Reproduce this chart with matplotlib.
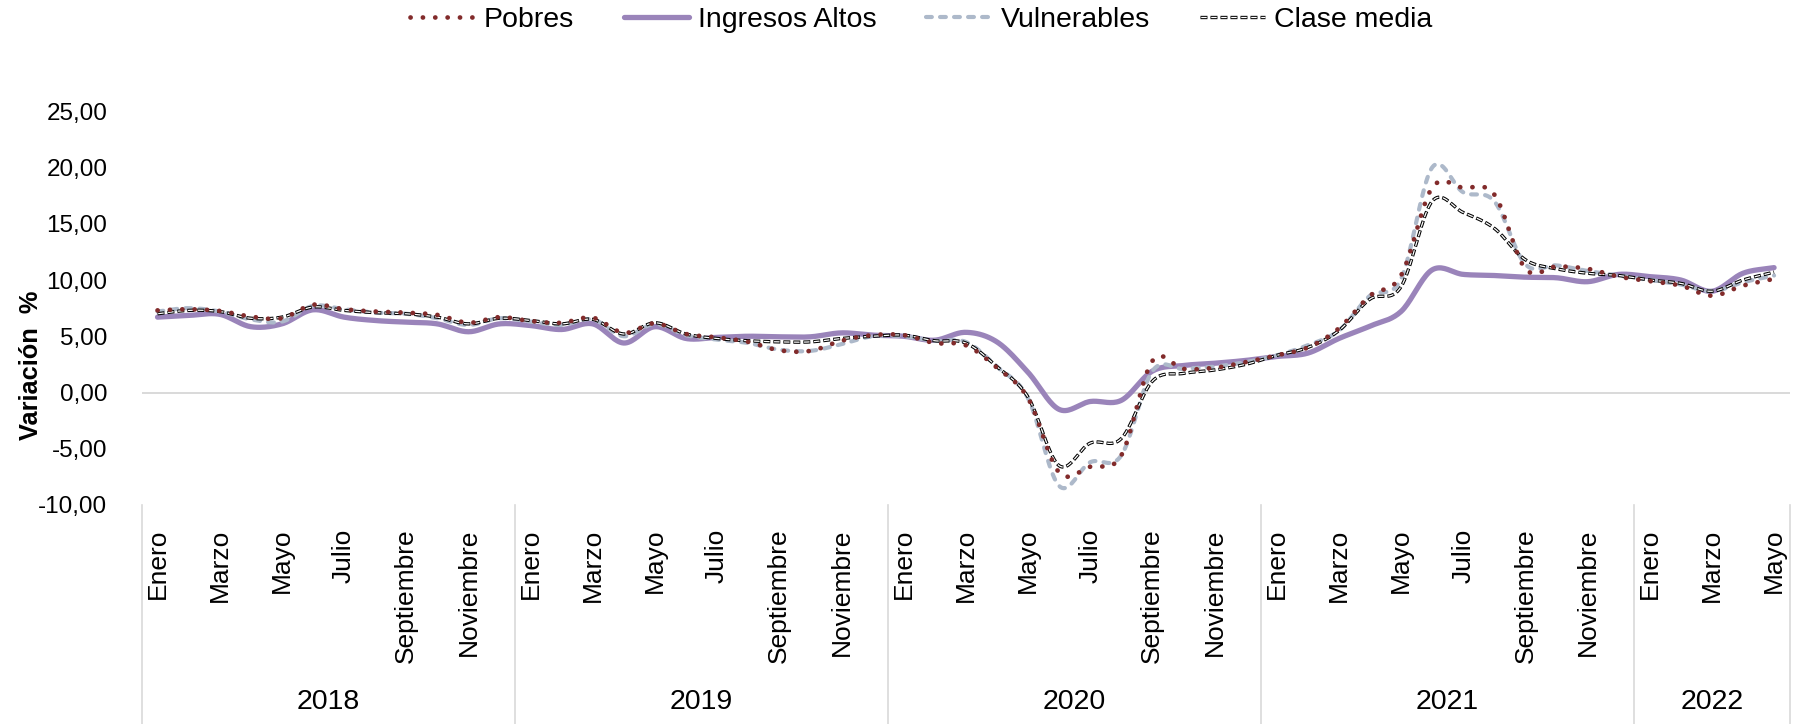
# Variación % del ingreso por grupo (serie mensual 2018 - 2022)

import matplotlib.pyplot as plt
import matplotlib.transforms as mtransforms
from matplotlib.lines import Line2D
import numpy as np

plt.rcParams['font.family'] = ['Liberation Sans', 'DejaVu Sans']
plt.rcParams['lines.scale_dashes'] = False

meses = ['Enero', 'Febrero', 'Marzo', 'Abril', 'Mayo', 'Junio', 'Julio',
         'Agosto', 'Septiembre', 'Octubre', 'Noviembre', 'Diciembre']
anios = ['2018', '2019', '2020', '2021', '2022']
meses_por_anio = [12, 12, 12, 12, 5]

pobres = [7.3, 7.4, 7.25, 6.75, 6.6, 7.8, 7.4, 7.2, 7.1, 6.9, 6.2, 6.7,
          6.35, 6.2, 6.65, 5.3, 6.15, 5.2, 4.9, 4.5, 3.75, 3.7, 4.6, 5.1,
          5.1, 4.4, 4.2, 2.2, -0.5, -7.1, -6.6, -5.6, 2.8, 2.1, 2.2, 2.7,
          3.3, 4.0, 5.7, 8.6, 10.4, 18.2, 18.2, 17.6, 11.0, 11.2, 11.0, 10.3,
          9.9, 9.5, 8.6, 9.5, 10.1]
ingresos_altos = [6.7, 6.85, 6.95, 5.85, 6.1, 7.35, 6.7, 6.4, 6.25, 6.1, 5.4, 6.1,
                  5.95, 5.6, 6.1, 4.4, 5.85, 4.8, 4.9, 5.0, 4.95, 4.95, 5.3, 5.1,
                  5.0, 4.65, 5.35, 4.5, 1.8, -1.5, -0.8, -0.7, 1.9, 2.4, 2.6, 2.85,
                  3.2, 3.5, 4.8, 5.9, 7.2, 10.9, 10.5, 10.4, 10.25, 10.2, 9.85, 10.5,
                  10.3, 10.0, 9.0, 10.6, 11.1]
vulnerables = [7.2, 7.5, 7.2, 6.5, 6.3, 7.7, 7.4, 7.1, 7.0, 6.6, 6.0, 6.6,
               6.3, 6.0, 6.5, 5.0, 6.1, 5.1, 4.7, 4.4, 3.8, 3.7, 4.3, 5.0,
               5.0, 4.6, 4.5, 2.3, -0.5, -8.3, -6.2, -5.6, 1.9, 2.1, 2.3, 2.7,
               3.3, 4.2, 5.5, 8.6, 10.1, 20.0, 17.8, 17.0, 11.4, 11.3, 10.8, 10.4,
               10.0, 9.6, 9.0, 9.8, 10.4]
clase_media = [7.0, 7.3, 7.2, 6.6, 6.7, 7.6, 7.3, 7.1, 7.0, 6.7, 6.1, 6.6,
               6.4, 6.1, 6.5, 5.2, 6.2, 5.2, 4.8, 4.6, 4.5, 4.5, 4.8, 5.0,
               5.1, 4.6, 4.4, 2.3, -0.4, -6.5, -4.5, -4.1, 1.0, 1.7, 2.0, 2.5,
               3.3, 4.0, 5.5, 8.3, 9.4, 17.0, 16.0, 14.6, 11.8, 11.0, 10.6, 10.4,
               10.0, 9.7, 9.0, 10.0, 10.7]

y_ticks = [-10, -5, 0, 5, 10, 15, 20, 25]


def suavizar(y, n=20):
    # linea suavizada tipo Excel (Catmull-Rom) que pasa por cada punto
    y = np.asarray(y, float)
    x = np.arange(len(y), dtype=float)
    px = np.concatenate([[2 * x[0] - x[1]], x, [2 * x[-1] - x[-2]]])
    py = np.concatenate([[2 * y[0] - y[1]], y, [2 * y[-1] - y[-2]]])
    t = np.linspace(0, 1, n, endpoint=False)
    xs, ys = [], []
    for k in range(1, len(px) - 2):
        for p, out in ((px, xs), (py, ys)):
            p0, p1, p2, p3 = p[k - 1], p[k], p[k + 1], p[k + 2]
            out.append(0.5 * (2 * p1 + (-p0 + p2) * t
                              + (2 * p0 - 5 * p1 + 4 * p2 - p3) * t ** 2
                              + (-p0 + 3 * p1 - 3 * p2 + p3) * t ** 3))
    xs.append([x[-1]])
    ys.append([y[-1]])
    return np.concatenate(xs), np.concatenate(ys)


fig = plt.figure(figsize=(17.95, 7.24), dpi=100)
ax = fig.add_axes([0.0791, 0.3025, 0.9179, 0.5438])

# estilos
st_ia = dict(color='#9A84BA', lw=3.8, solid_capstyle='round')
st_pob = dict(color='#822B2B', lw=3.4, linestyle=(0, (0.1, 8.8)), dash_capstyle='round')
st_vul = dict(color='#ADB9CA', lw=3.0, linestyle=(0, (4.2, 5.9)), dash_capstyle='round')
st_cm1 = dict(color='black', lw=2.4, linestyle=(0, (5.0, 2.2)), dash_capstyle='butt')
st_cm2 = dict(color='white', lw=0.9, linestyle=(6.7, (4.0, 3.2)), dash_capstyle='butt')

ax.axhline(0, color='#D9D9D9', lw=1.4, zorder=1)

ax.plot(*suavizar(ingresos_altos), zorder=2, **st_ia)
ax.plot(*suavizar(vulnerables), zorder=3, **st_vul)
xs, ys = suavizar(clase_media)
ax.plot(xs, ys, zorder=4, **st_cm1)
ax.plot(xs, ys, zorder=4.1, **st_cm2)
ax.plot(*suavizar(pobres), zorder=5, **st_pob)

n = sum(meses_por_anio)
ax.set_xlim(-0.5, n - 0.5)
ax.set_ylim(-10, 25)
ax.set_yticks(y_ticks)
ax.set_yticklabels([f'{v:.2f}'.replace('.', ',') for v in y_ticks], fontsize=17.5)
ax.tick_params(axis='y', length=0, pad=25)

# etiquetas de mes (una si, una no)
etiquetas = []
for m in meses_por_anio:
    etiquetas += [meses[k] if k % 2 == 0 else '' for k in range(m)]
ax.set_xticks(range(n))
ax.set_xticklabels(etiquetas, rotation=90, fontsize=19)
ax.tick_params(axis='x', length=0, pad=17)

for s in ax.spines.values():
    s.set_visible(False)

# separadores de año y etiquetas de año
trans = mtransforms.blended_transform_factory(ax.transData, fig.transFigure)
inicio = 0
bordes = [-0.5]
for anio, m in zip(anios, meses_por_anio):
    ax.text(inicio + (m - 1) / 2, 0.03, anio, transform=trans, ha='center',
            va='center', fontsize=20.5)
    inicio += m
    bordes.append(inicio - 0.5)
for b in bordes:
    ax.add_line(Line2D([b, b], [0, 0.3025], transform=trans, color='#D9D9D9',
                       lw=1.2, clip_on=False))

fig.text(0.0173, 0.496, 'Variación  %', rotation=90, ha='center', va='center',
         fontsize=18.3, fontweight='bold')

# leyenda
h_pob = Line2D([], [], **st_pob)
h_ia = Line2D([], [], **st_ia)
h_vul = Line2D([], [], **st_vul)
h_cm = (Line2D([], [], **st_cm1), Line2D([], [], **st_cm2))
fig.legend([h_pob, h_ia, h_vul, h_cm],
           ['Pobres', 'Ingresos Altos', 'Vulnerables', 'Clase media'],
           loc='center', bbox_to_anchor=(0.513, 0.972), ncol=4, frameon=False,
           fontsize=20.5, handlelength=2.3, handletextpad=0.3, columnspacing=1.75)

fig.savefig('out.png', dpi=100)
